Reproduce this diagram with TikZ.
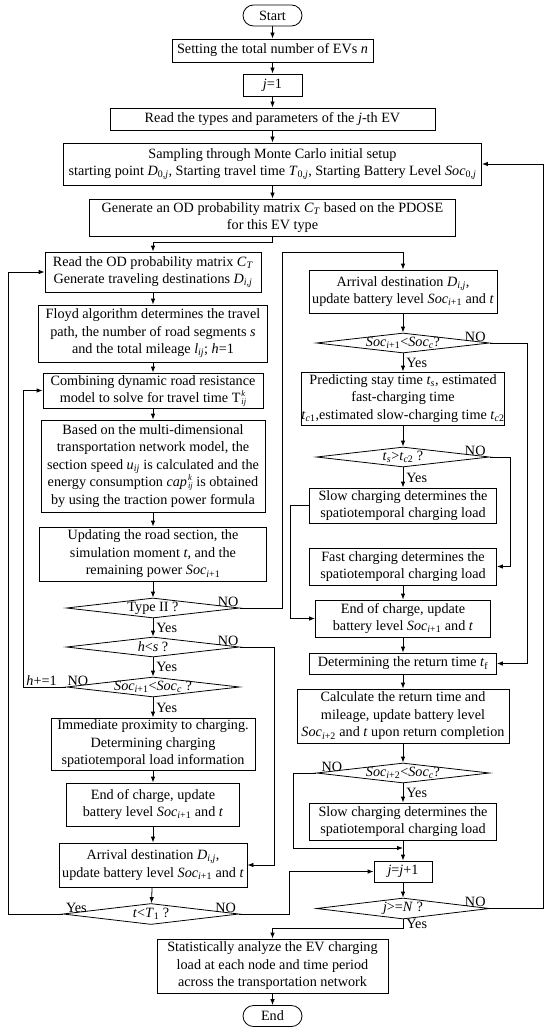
\documentclass[tikz,border=0pt]{standalone}
\usepackage{fontspec}
\setmainfont{Liberation Serif}
\usetikzlibrary{shapes.geometric,arrows.meta}
\newcommand{\vs}[2]{\textit{#1}\textsubscript{#2}}
\newcommand{\smallidx}{\fontsize{8.5}{9}\selectfont}
\newcommand{\subsup}[2]{\kern1pt\rlap{\raisebox{-1.5pt}{\smallidx\textit{#1}}}\rlap{\raisebox{6pt}{\smallidx\textit{#2}}}\hphantom{\smallidx\textit{#1}}}
\tikzset{
  box/.style={draw, rectangle, align=center, inner sep=0pt},
  term/.style={draw, rectangle, rounded corners=10.5pt, inner sep=0pt, minimum width=59pt, minimum height=21pt},
  dec/.style={draw, diamond, inner sep=0pt, minimum width=173pt, minimum height=20pt},
  arr/.style={-{Latex[length=6pt,width=4.5pt]}},
  lbl/.style={inner sep=1pt},
  yes/.style={lbl, anchor=west, xshift=2pt}
}

\begin{document}
\begin{tikzpicture}[x=1pt,y=-1pt,line width=0.8pt,font=\fontsize{14.2}{17.5}\selectfont]
\useasboundingbox (0,0) rectangle (550,1032);
\node[term] (start) at (272.5,15.5) {Start};
\node[box, minimum width=201pt, minimum height=23pt] (nset) at (272.5,50.5) {Setting the total number of EVs \textit{n}};
\node[box, minimum width=59pt, minimum height=22pt] (jone) at (272.5,85) {\textit{j}=1};
\node[box, minimum width=325pt, minimum height=22pt] (rtype) at (272.5,119) {Read the types and parameters of the \textit{j}-th EV};
\node[box, minimum width=418pt, minimum height=42pt] (samp) at (272.5,164) {Sampling through Monte Carlo initial setup\\ starting point \vs{D}{0,\textit{j}}, Starting travel time \vs{T}{0,\textit{j}}, Starting Battery Level \vs{Soc}{0,\textit{j}}};
\node[box, minimum width=366pt, minimum height=37pt] (genod) at (272.5,217.5) {Generate an OD probability matrix \vs{C}{\textit{T}} based on the PDOSE\\ for this EV type};
% left column
\node[box, minimum width=216pt, minimum height=40pt] (rod) at (153,272) {Read the OD probability matrix \vs{C}{\textit{T}}\\ Generate traveling destinations \vs{D}{\textit{i},\textit{j}}};
\node[box, minimum width=229pt, minimum height=57pt] (floyd) at (153,333.5) {Floyd algorithm determines the travel\\ path, the number of road segments \textit{s}\\ and the total mileage \vs{l}{\textit{ij}}; \textit{h}=1};
\node[box, minimum width=220pt, minimum height=35pt] (comb) at (153,390.5) {Combining dynamic road resistance\\ model to solve for travel time T\subsup{ij}{k}};
\node[box, minimum width=224pt, minimum height=92pt] (based) at (153,466) {Based on the multi-dimensional\\ transportation network model, the\\ section speed \vs{u}{\textit{ij}} is calculated and the\\ energy consumption \textit{cap}\subsup{ij}{k} is obtained\\ by using the traction power formula};
\node[box, minimum width=227pt, minimum height=54pt] (upd) at (153,554) {Updating the road section, the\\ simulation moment \textit{t}, and the\\ remaining power \vs{Soc}{\textit{i}+1}};
\node[dec, label={center:Type II ?}] (qtype) at (153,608) {};
\node[dec, label={center:\textit{h}<\textit{s} ?}] (qhs) at (153,647) {};
\node[dec, label={center:\vs{Soc}{\textit{i}+1}<\vs{Soc}{\textit{c}} ?}] (qsoc1) at (153,687) {};
\node[box, minimum width=204pt, minimum height=52pt] (imm) at (153,744) {Immediate proximity to charging.\\ Determining charging\\ spatiotemporal load information};
\node[box, minimum width=173pt, minimum height=43pt] (lend) at (153,804.5) {End of charge, update\\ battery level \vs{Soc}{\textit{i}+1} and \textit{t}};
\node[box, minimum width=188pt, minimum height=44pt] (larr) at (153,865) {Arrival destination \vs{D}{\textit{i},\textit{j}},\\ update battery level \vs{Soc}{\textit{i}+1} and \textit{t}};
\node[dec, minimum width=176pt, minimum height=21pt, label={center:\textit{t}<\vs{T}{1} ?}] (qt) at (151,914) {};
% right column
\node[box, minimum width=188pt, minimum height=43pt] (rarr) at (403,291.5) {Arrival destination \vs{D}{\textit{i},\textit{j}},\\ update battery level \vs{Soc}{\textit{i}+1} and \textit{t}};
\node[dec, label={center:\vs{Soc}{\textit{i}+1}<\vs{Soc}{\textit{c}}?}] (qsoc2) at (403,343) {};
\node[box, minimum width=203pt, minimum height=53pt] (pred) at (403,398.5) {Predicting stay time \vs{t}{\textit{s}}, estimated\\ fast-charging time\\ \vs{t}{\textit{c}1},estimated slow-charging time \vs{t}{\textit{c}2}};
\node[dec, label={center:\vs{t}{\textit{s}}>\vs{t}{\textit{c}2} ?}] (qts) at (403,457) {};
\node[box, minimum width=187pt, minimum height=35pt] (slowa) at (403,505.5) {Slow charging determines the\\ spatiotemporal charging load};
\node[box, minimum width=187pt, minimum height=37pt] (fast) at (403,566.5) {Fast charging determines the\\ spatiotemporal charging load};
\node[box, minimum width=175pt, minimum height=37pt] (rend) at (403,618.5) {End of charge, update\\ battery level \vs{Soc}{\textit{i}+1} and \textit{t}};
\node[box, minimum width=187pt, minimum height=21pt] (ret) at (403,663.5) {Determining the return time \vs{t}{f}};
\node[box, minimum width=212pt, minimum height=54pt] (calc) at (403,716) {Calculate the return time and\\ mileage, update battery level\\ \vs{Soc}{\textit{i}+2} and \textit{t} upon return completion};
\node[dec, label={center:\vs{Soc}{\textit{i}+2}<\vs{Soc}{\textit{c}}?}] (qsoc3) at (403,773) {};
\node[box, minimum width=187pt, minimum height=37pt] (slowb) at (403,821.5) {Slow charging determines the\\ spatiotemporal charging load};
\node[box, minimum width=58pt, minimum height=21pt] (jinc) at (403,871.5) {\textit{j}=\textit{j}+1};
\node[dec, minimum height=21pt, label={center:\textit{j}>=\textit{N} ?}] (qjn) at (403,908.5) {};
% bottom
\node[box, minimum width=231pt, minimum height=54pt] (stat) at (272.5,966) {Statistically analyze the EV charging\\ load at each node and time period\\ across the transportation network};
\node[term] (endn) at (272.5,1016) {End};
% corners
\coordinate (c1) at (282,252);
\coordinate (c2) at (274,0);
\coordinate (c3) at (23,0);
\coordinate (c4) at (8,0);
\coordinate (c5) at (289,0);
\coordinate (c6) at (290,0);
\coordinate (c7) at (293,848);
\coordinate (m1) at (403,848);
\coordinate (c8) at (527,0);
\coordinate (c9) at (510,0);
\coordinate (c10) at (543,0);

\foreach \a/\b in {start/nset,nset/jone,jone/rtype,rtype/samp,samp/genod,
  rod/floyd,floyd/comb,comb/based,based/upd,upd/qtype,imm/lend,lend/larr,larr/qt,
  rarr/qsoc2,pred/qts,fast/rend,rend/ret,ret/calc,calc/qsoc3,slowb/jinc,jinc/qjn,stat/endn}
  \draw[arr] (\a) -- (\b);
\draw[arr] (genod.south) -- ++(0,6) -| (rod.north);
\draw[arr] (qtype) -- node[yes] (y1) {Yes} (qhs);
\draw[arr] (qhs) -- node[yes] (y2) {Yes} (qsoc1);
\draw[arr] (qsoc1) -- node[yes] (y3) {Yes} (imm);
\draw[arr] (qsoc2) -- node[yes] (y4) {Yes} (pred);
\draw[arr] (qts) -- node[yes] (y5) {Yes} (slowa);
\draw[arr] (qsoc3) -- node[yes] (y6) {Yes} (slowb);
\draw[arr] (qjn.south) -- node[yes] (y7) {Yes} ++(0,9) -| (stat.north);
\draw[arr] (qtype.east) -| (c1) -| (rarr.north);
\draw[arr] (qhs.east) -- (qhs.east -| c2) |- (larr.east);
\draw[arr] (qsoc1.west) -- (qsoc1.west -| c3) |- (comb.west);
\draw[arr] (qt.west) -- (qt.west -| c4) |- (rod.west);
\draw[arr] (qt.east) -- (qt.east -| c5) |- (jinc.west);
\draw[arr] (slowa.west) -- (slowa.west -| c6) |- (rend.west);
\draw[arr] (qsoc3.west) -| (c7) -- (m1);
\draw[arr] (qsoc2.east) -- (qsoc2.east -| c8) |- (ret.east);
\draw[arr] (qts.east) -- (qts.east -| c9) |- (fast.east);
\draw[arr] (qjn.east) -- (qjn.east -| c10) |- (samp.east);
\node[lbl, anchor=south east] (n1) at (qtype.east) {NO};
\node[lbl, anchor=south east] (n2) at (qhs.east) {NO};
\node[lbl, anchor=south west] (n3) at (qsoc1.west) {NO};
\node[lbl, anchor=south east, xshift=-8pt] (hinc) at (qsoc1.west) {\textit{h}+=1};
\node[lbl, anchor=south west, xshift=2pt] (y8) at (qt.west) {Yes};
\node[lbl, anchor=south east, xshift=-2pt] (n4) at (qt.east) {NO};
\node[lbl, anchor=south east, xshift=-3pt] (n5) at (qsoc2.east) {NO};
\node[lbl, anchor=south east, xshift=-3pt] (n6) at (qts.east) {NO};
\node[lbl, anchor=south west, xshift=4pt] (n7) at (qsoc3.west) {NO};
\node[lbl, anchor=south east, xshift=-3pt] (n8) at (qjn.east) {NO};
\end{tikzpicture}
\end{document}
